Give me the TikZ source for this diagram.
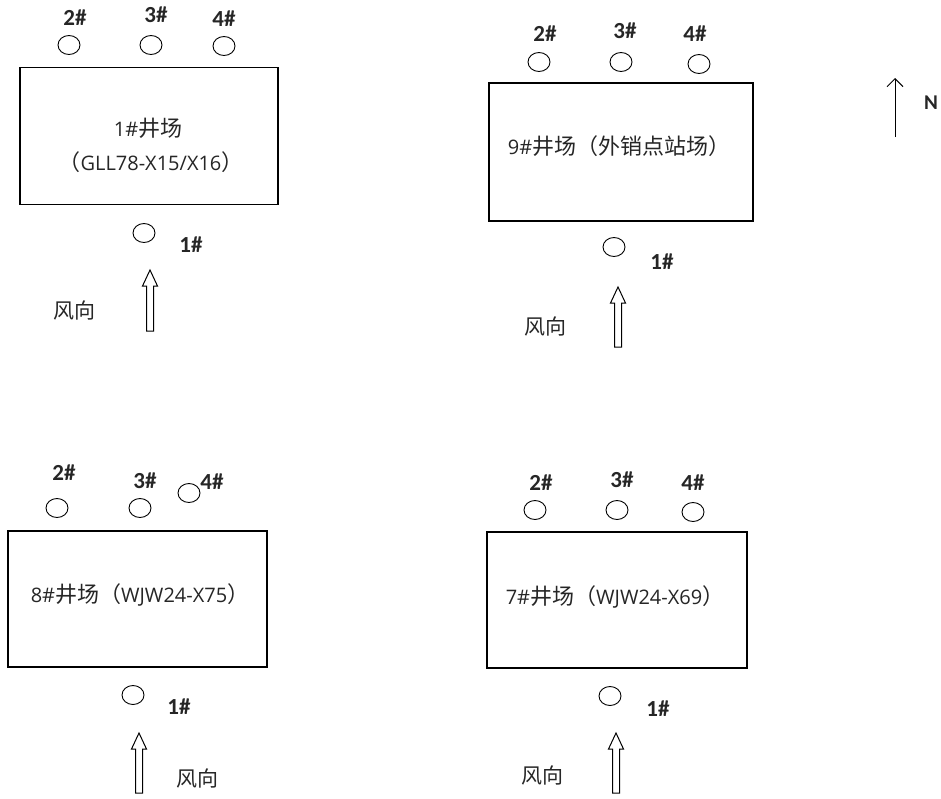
\documentclass[tikz,border=0pt]{standalone}
\usepackage{fontspec}
\setmainfont{Open Sans}
\newfontfamily\lblfont{Carlito}
\newfontfamily\cjk{Noto Sans CJK SC}
\usetikzlibrary{shapes.geometric,arrows.meta}
\tikzset{
  well/.style={draw, ellipse, line width=0.9pt, minimum width=22pt, minimum height=19pt, inner sep=0pt},
  lbl/.style={font=\lblfont\fontsize{23}{23}\selectfont\bfseries, inner sep=0pt, text=black!85},
  nlbl/.style={font=\lblfont\fontsize{21}{21}\selectfont\bfseries, inner sep=0pt, text=black!85},
  site/.style={draw, line width=1.4pt, inner sep=0pt},
  sitetext/.style={font=\fontsize{20}{20}\selectfont, inner sep=0pt, text=black!85},
  windtext/.style={font=\cjk\fontsize{21}{21}\selectfont, inner sep=0pt, text=black!85},
  hollow/.style={draw, line width=1pt, fill=white},
}
\newcommand{\ck}[1]{{\cjk\fontsize{22}{22}\selectfont #1}}
\newcommand{\windarrow}[3]{% x, ytop, ybottom
  \draw[hollow] (#1-3.5,#3) -- (#1-3.5,#2+16) -- (#1-7.5,#2+16) -- (#1,#2) -- (#1+7.5,#2+16) -- (#1+3.5,#2+16) -- (#1+3.5,#3) -- cycle;}
\begin{document}
\begin{tikzpicture}[x=1pt,y=-1pt]
\useasboundingbox[fill=white] (0,0) rectangle (941,798);

% ---------- Panel 1 ----------
\node[site, minimum width=258pt, minimum height=137pt] (s1) at (149,136) {};
\node[sitetext] (s1a) at (148,128) {1\#\ck{井场}};
\node[sitetext] (s1b) at (151,162) {\ck{（}GLL78-X15/X16\ck{）}};
\node[well] (p1w2) at (69,45) {};
\node[well] (p1w3) at (151,45) {};
\node[well] (p1w4) at (224,46) {};
\node[lbl] (p1l2) at (75,18) {2\#};
\node[lbl] (p1l3) at (156,15) {3\#};
\node[lbl] (p1l4) at (224,19) {4\#};
\node[well] (p1w1) at (144,233) {};
\node[lbl] (p1l1) at (191,245) {1\#};
\windarrow{150}{270}{331}
\node[windtext] (p1wd) at (74,311) {风向};

% ---------- Panel 2 ----------
\node[site, minimum width=264pt, minimum height=138pt] (s2) at (621,152) {};
\node[sitetext] (s2a) at (619,146) {9\#\ck{井场（外销点站场）}};
\node[well] (p2w2) at (539,62) {};
\node[well] (p2w3) at (621,62) {};
\node[well] (p2w4) at (699,64) {};
\node[lbl] (p2l2) at (545,34) {2\#};
\node[lbl] (p2l3) at (625,31) {3\#};
\node[lbl] (p2l4) at (695,34) {4\#};
\node[well] (p2w1) at (614,247) {};
\node[lbl] (p2l1) at (662,262) {1\#};
\windarrow{618}{287}{347}
\node[windtext] (p2wd) at (545,327) {风向};

% ---------- North arrow ----------
\coordinate (nb) at (895,137);
\coordinate (nt) at (895,78);
\draw[line width=1pt, -{Straight Barb[length=8pt,width=16pt,line width=1pt]}] (nb) -- (nt);
\node[nlbl] (nl) at (931,103) {N};

% ---------- Panel 3 ----------
\node[site, minimum width=259pt, minimum height=136pt] (s3) at (137.5,599) {};
\node[sitetext] (s3a) at (140,595) {8\#\ck{井场（}WJW24-X75\ck{）}};
\node[well] (p3w2) at (57,508) {};
\node[well] (p3w3) at (140,508) {};
\node[well] (p3w4) at (189,493) {};
\node[lbl] (p3l2) at (64,473) {2\#};
\node[lbl] (p3l3) at (145,481) {3\#};
\node[lbl] (p3l4) at (212,482) {4\#};
\node[well] (p3w1) at (133,695) {};
\node[lbl] (p3l1) at (179,707) {1\#};
\windarrow{139}{733}{793}
\node[windtext] (p3wd) at (197,778) {风向};

% ---------- Panel 4 ----------
\node[site, minimum width=260pt, minimum height=136pt] (s4) at (617,600) {};
\node[sitetext] (s4a) at (615,597) {7\#\ck{井场（}WJW24-X69\ck{）}};
\node[well] (p4w2) at (535,510) {};
\node[well] (p4w3) at (617,510) {};
\node[well] (p4w4) at (693,512) {};
\node[lbl] (p4l2) at (541,483) {2\#};
\node[lbl] (p4l3) at (622,480) {3\#};
\node[lbl] (p4l4) at (693,483) {4\#};
\node[well] (p4w1) at (610,696) {};
\node[lbl] (p4l1) at (658,709) {1\#};
\windarrow{616}{733}{793}
\node[windtext] (p4wd) at (542,775) {风向};
\end{tikzpicture}
\end{document}
